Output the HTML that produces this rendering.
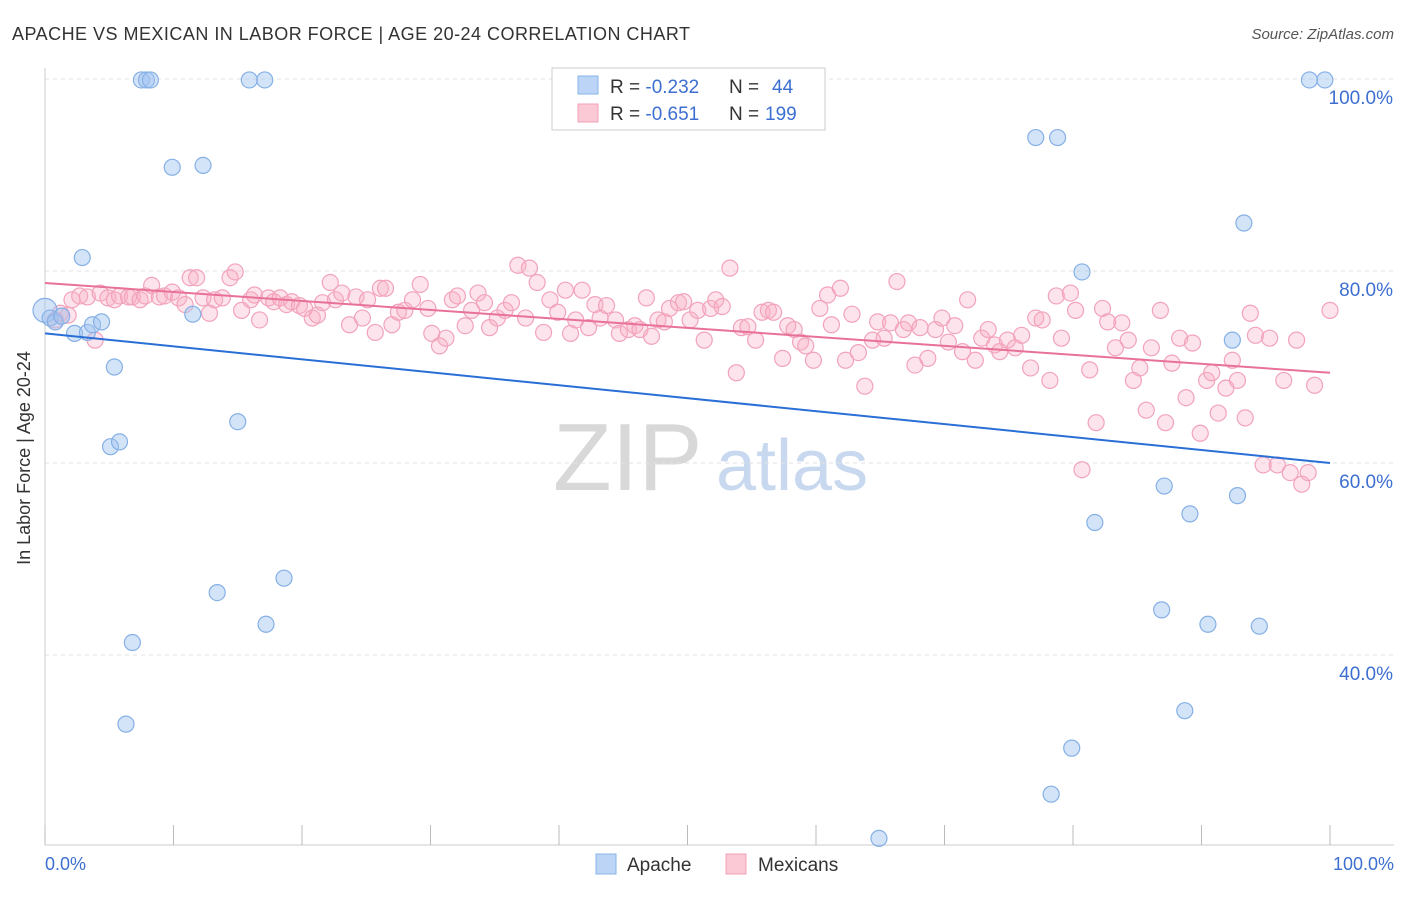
<!DOCTYPE html>
<html><head><meta charset="utf-8"><style>
body{margin:0;background:#fff;font-family:"Liberation Sans",sans-serif;}
svg text{font-family:"Liberation Sans",sans-serif;}
</style></head><body>
<svg id="chart" width="1406" height="892" xmlns="http://www.w3.org/2000/svg">
<text x="12" y="40" font-size="18" fill="#333" textLength="678" lengthAdjust="spacing">APACHE VS MEXICAN IN LABOR FORCE | AGE 20-24 CORRELATION CHART</text>
<text x="1394" y="39" font-size="15" fill="#555" font-style="italic" text-anchor="end">Source: ZipAtlas.com</text>
<g>
<text x="553" y="490" font-size="96" fill="#d8d8d8" font-family="Liberation Serif,serif">ZIP</text>
<text x="716" y="490" font-size="72" fill="#c8d8ef">atlas</text>
</g>
<g id="grid"></g>
<line x1="45" y1="68" x2="45" y2="845" stroke="#ccc"/>
<line x1="45" y1="845" x2="1394" y2="845" stroke="#ccc"/>
<g id="ticks"></g>
<text x="30" y="458" font-size="18" fill="#333" text-anchor="middle" transform="rotate(-90 30 458)">In Labor Force | Age 20-24</text>
<text x="45" y="870" font-size="18" fill="#3d6fd1">0.0%</text>
<text x="1394" y="870" font-size="18" fill="#3d6fd1" text-anchor="end">100.0%</text>
<g id="pts"></g>
<g id="lines"></g>
<g>
<rect x="552" y="68" width="273" height="62" fill="#fff" stroke="#ccc"/>
<rect x="578" y="76" width="20" height="18" fill="#bcd4f5" stroke="#8ab4e8"/>
<rect x="578" y="104" width="20" height="18" fill="#fbc8d6" stroke="#f0a0b8"/>
<text x="610" y="93" font-size="19" fill="#333">R = <tspan fill="#3d6fd1">-0.232</tspan><tspan x="729">N = </tspan><tspan fill="#3d6fd1" x="772">44</tspan></text>
<text x="610" y="120" font-size="19" fill="#333">R = <tspan fill="#3d6fd1">-0.651</tspan><tspan x="729">N = </tspan><tspan fill="#3d6fd1" x="765">199</tspan></text>
</g>
<g>
<rect x="596" y="854" width="20" height="20" fill="#bcd4f5" stroke="#8ab4e8"/>
<text x="627" y="871" font-size="19" fill="#333">Apache</text>
<rect x="726" y="854" width="20" height="20" fill="#fbc8d6" stroke="#f0a0b8"/>
<text x="758" y="871" font-size="19" fill="#333">Mexicans</text>
</g>
</svg>
<script>
const yTicks=[100,80,60,40];
const yTickLabels=["100.0%","80.0%","60.0%","40.0%"];
const xTicks=[0,10,20,30,40,50,60,70,80,90,100];
const apacheX=[0,0.4,0.8,1.3,2.3,2.9,3.3,3.7,4.4,5.4,5.1,5.8,6.3,6.8,7.5,7.9,8.2,9.9,12.3,11.5,13.4,15.0,15.9,17.1,17.2,18.6,64.9,77.1,78.8,78.3,79.9,80.7,81.7,86.9,87.1,88.7,89.1,90.5,92.4,92.8,93.3,94.5,98.4,99.6];
const apacheY=[75.9,75.1,74.7,75.3,73.5,81.4,73.6,74.4,74.7,70.0,61.7,62.2,32.8,41.3,99.9,99.9,99.9,90.8,91.0,75.5,46.5,64.3,99.9,99.9,43.2,48.0,20.9,93.9,93.9,25.5,30.3,79.9,53.8,44.7,57.6,34.2,54.7,43.2,72.8,56.6,85.0,43.0,99.9,99.9];
const mexX=[0.8,1.2,1.8,2.1,2.7,3.3,3.9,4.3,4.9,5.4,5.8,6.5,6.8,7.4,7.8,8.3,8.9,9.3,9.9,10.4,10.9,11.3,11.8,12.3,12.8,13.2,13.8,14.4,14.8,15.3,16.0,16.3,16.7,17.4,17.8,18.3,18.8,19.2,19.8,20.2,20.8,21.2,21.6,22.2,22.6,23.1,23.7,24.2,24.7,25.1,25.7,26.1,26.5,27.0,27.5,28.0,28.6,29.2,29.8,30.1,30.7,31.2,31.7,32.1,32.7,33.2,33.7,34.2,34.6,35.2,35.8,36.3,36.8,37.4,37.7,38.3,38.8,39.3,39.9,40.5,40.9,41.3,41.8,42.3,42.8,43.2,43.7,44.4,44.7,45.4,45.9,46.3,46.8,47.2,47.7,48.2,48.6,49.3,49.7,50.2,50.8,51.3,51.8,52.2,52.7,53.3,53.8,54.2,54.7,55.3,55.8,56.3,56.7,57.4,57.8,58.3,58.8,59.2,59.8,60.3,60.9,61.2,61.9,62.3,62.8,63.3,63.8,64.4,64.8,65.3,65.8,66.3,66.8,67.2,67.7,68.1,68.7,69.3,69.8,70.3,70.8,71.4,71.8,72.4,72.9,73.4,73.9,74.3,74.9,75.5,76.0,76.7,77.1,77.6,78.2,78.7,79.1,79.8,80.2,80.7,81.3,81.8,82.3,82.7,83.3,83.8,84.3,84.7,85.2,85.7,86.1,86.8,87.2,87.7,88.3,88.8,89.3,89.9,90.4,90.8,91.3,91.9,92.4,92.8,93.4,93.8,94.2,94.8,95.3,95.9,96.4,96.9,97.4,97.8,98.3,98.8,100];
const mexY=[74.9,75.6,75.4,77.0,77.4,77.3,72.8,77.7,77.2,77.0,77.4,77.3,77.3,77.0,77.4,78.5,77.3,77.4,77.8,77.2,76.5,79.3,79.3,77.2,75.6,77.0,77.2,79.3,79.9,75.9,77.0,77.5,74.9,77.2,76.8,77.2,76.5,76.8,76.4,76.1,75.1,75.4,76.7,78.8,77.0,77.7,74.4,77.3,75.1,77.0,73.6,78.2,78.2,74.4,75.7,75.9,77.0,78.6,76.1,73.5,72.2,73.0,77.0,77.4,74.3,75.9,77.7,76.7,74.1,75.1,75.9,76.7,80.6,75.1,80.3,78.8,73.6,77.0,75.7,78.0,73.5,74.9,78.0,74.1,76.5,75.1,76.4,74.9,73.5,73.9,74.3,73.9,77.2,73.2,74.9,74.7,76.1,76.7,76.8,74.9,75.9,72.8,76.1,77.0,76.3,80.3,69.4,74.1,74.2,72.8,75.7,75.9,75.7,70.9,74.3,73.9,72.6,72.2,70.7,76.1,77.5,74.4,78.2,70.7,75.5,71.5,68.0,72.8,74.7,73.0,74.6,78.9,73.9,74.6,70.2,74.1,70.9,73.9,75.1,72.6,74.3,71.6,77.0,70.7,73.0,73.9,72.3,71.6,72.8,72.0,73.3,69.9,75.1,74.9,68.6,77.4,73.0,77.7,75.9,59.3,69.7,64.2,76.1,74.7,72.0,74.6,72.8,68.6,69.9,65.5,72.0,75.9,64.2,70.4,73.0,66.8,72.5,63.1,68.6,69.4,65.2,67.8,70.7,68.6,64.7,75.6,73.3,59.8,73.0,59.8,68.6,59.0,72.8,57.8,59.0,68.1,75.9];
const trendApache=[73.5,60.0];
const trendMex=[78.75,69.4];
const xs=v=>45+v*12.85, ys=v=>79+(100-v)*9.6;
const NS="http://www.w3.org/2000/svg";
function mk(t,a,p){const e=document.createElementNS(NS,t);for(const k in a)e.setAttribute(k,a[k]);p.appendChild(e);return e;}
const grid=document.getElementById('grid');
yTicks.forEach((v,i)=>{
 const l=mk('line',{x1:45,x2:1394,y1:ys(v),y2:ys(v),stroke:'#e2e2e2','stroke-dasharray':'4,4'},grid);
 
 
 const t=mk('text',{x:1393,y:ys(v)+25,'font-size':19,fill:'#3d6fd1','text-anchor':'end'},grid);
 t.textContent=yTickLabels[i];
 
 
});
const tk=document.getElementById('ticks');
xTicks.forEach(v=>{
 const l=mk('line',{x1:xs(v),x2:xs(v),y1:825,y2:845,stroke:'#bbb'},tk);
 
 
});
const pts=document.getElementById('pts');
mexX.forEach((x,i)=>{
 const c=mk('circle',{cx:xs(x),cy:ys(mexY[i]),r:8,fill:'rgba(248,175,198,0.35)',stroke:'#f2a3bb','stroke-width':1.2},pts);
 
 
});
apacheX.forEach((x,i)=>{
 const c=mk('circle',{cx:xs(x),cy:ys(apacheY[i]),r:i==0?12:8,fill:'rgba(160,196,240,0.45)',stroke:'#85b0e6','stroke-width':1.2},pts);
 
 
});
const ln=document.getElementById('lines');
const a=mk('line',{x1:xs(0),y1:ys(trendApache[0]),x2:xs(100),y2:ys(trendApache[1]),stroke:'#2a6fd6','stroke-width':2},ln);


const m=mk('line',{x1:xs(0),y1:ys(trendMex[0]),x2:xs(100),y2:ys(trendMex[1]),stroke:'#e8719a','stroke-width':2},ln);


</script>
</body></html>
